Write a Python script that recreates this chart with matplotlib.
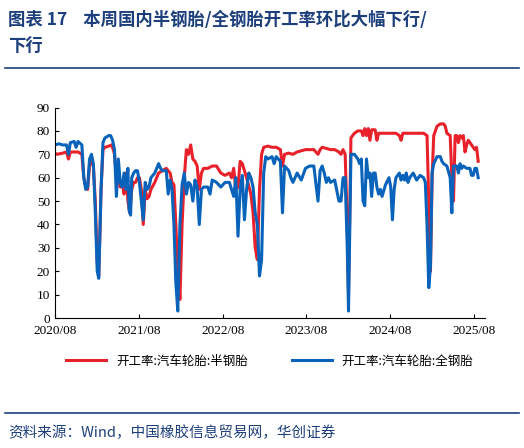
import matplotlib.pyplot as plt
import numpy as np

plt.rcParams['font.family'] = ['Noto Sans CJK SC', 'DejaVu Sans']

# x in chart units (about 2.4 weeks each), y = utilisation rate (%)
half_x = [0, 0.5, 2, 3, 3.5, 4, 6, 7, 7.5, 8, 8.5, 9, 9.5, 10, 10.5, 11, 11.4, 12, 12.5, 13, 14, 14.7,
          15.2, 15.5, 16, 16.5, 17, 17.5, 18, 18.5, 19, 19.5, 20, 20.5, 21, 21.5, 22, 22.5, 23, 23.5, 24,
          24.5, 25, 26, 27, 28, 29, 30, 30.5, 31, 31.5, 32, 32.5, 33, 33.5, 34, 34.5, 35, 35.5, 36, 36.5,
          37, 37.5, 38, 39, 40, 41, 42, 43, 44, 44.5, 45, 45.5, 46, 46.5, 47, 48, 49, 49.5, 50, 50.5, 51,
          51.5, 52, 53, 54, 55, 56, 56.5, 57, 58, 59, 60, 62, 64, 65, 65.5, 66, 67, 68, 69, 70, 70.5, 71,
          71.5, 72, 72.3, 72.7, 73, 74, 75, 76, 76.5, 77, 77.5, 78, 78.5, 79, 80, 80.5, 81, 82, 84, 86, 87,
          87.5, 88, 90, 92, 94, 95, 95.5, 96, 96.5, 97, 98, 99, 100, 100.5, 101, 102, 102.5, 103, 103.5,
          104, 104.5, 105, 105.5, 106, 106.5, 107, 107.5, 108, 108.5, 109, 109.5, 110, 110.5]
half_y = [70.5, 70, 70.5, 71, 68, 71, 71, 70, 60, 56, 55, 65, 67, 65, 50, 24, 18, 55, 72, 73, 73.5, 74,
          72, 70, 60, 60, 56, 58, 53, 62, 50, 45, 55, 58, 58, 60, 60, 55, 40, 55, 51,
          52, 55, 58, 62, 63, 64, 62, 58, 57, 40, 20, 8, 40, 60, 72, 70, 74, 68, 67, 65,
          55, 62, 64, 64, 65, 65, 62, 61, 62, 60, 64, 55, 56, 67, 66, 60, 53, 45, 30, 25, 55,
          70, 73, 73.5, 73, 73, 72, 65, 70, 70.5, 70, 71, 72, 72, 70, 72, 73, 72.5, 72, 72, 71, 70, 72,
          70, 40, 10, 50, 77, 79, 80, 80, 78, 81, 78, 81, 76, 80.5, 80.5, 76, 79, 79, 79, 79, 78,
          76, 79, 79, 79, 79, 78, 50, 20, 60, 78, 82, 83, 83, 82, 79, 78, 60, 50, 78,
          78, 75, 78, 77, 78, 71, 74, 76, 75, 74, 73, 72, 73, 67]

full_x = [0, 1, 2, 3, 3.5, 4, 5, 5.5, 6, 7, 7.5, 8, 8.5, 9, 9.5, 10, 10.5, 11, 11.4, 12, 12.5, 13, 14,
          14.5, 15, 15.5, 16, 16.5, 17, 17.5, 18, 18.5, 19, 19.3, 19.7, 20, 20.5, 21, 21.5, 22, 22.5, 23,
          23.5, 24, 24.5, 25, 26, 27, 27.5, 28, 29, 29.5, 30, 30.5, 31, 31.5, 32, 32.5, 33, 33.5, 34, 34.5,
          35, 35.5, 36, 36.5, 37, 37.5, 38, 39, 39.5, 40, 41, 42, 43, 44, 44.5, 45, 45.5, 46, 46.5, 47,
          47.5, 48, 48.5, 49, 49.5, 50, 50.5, 51, 51.5, 52, 52.5, 53, 54, 54.5, 55, 56, 56.5, 57, 58, 58.5,
          59, 60, 61, 62, 63, 64, 65, 65.5, 66, 66.5, 67, 67.5, 68, 69, 70, 70.5, 71, 71.5, 72, 72.3, 72.7,
          73, 74, 75, 75.5, 76, 76.5, 77, 77.5, 78, 78.5, 79, 79.5, 80, 80.5, 81, 81.5, 82, 83, 84, 84.5,
          85, 85.5, 86, 87, 87.5, 88, 88.5, 89, 89.5, 90, 91, 92, 93, 94, 94.5, 95, 95.5, 96, 96.5, 97, 98,
          99, 99.5, 100, 101, 102, 102.5, 103, 104, 104.5, 105, 105.5, 106, 107, 108, 108.5, 109, 109.5,
          110, 110.5]
full_y = [74, 74.5, 74, 74, 70, 75, 75.5, 73, 75.5, 74, 60, 55, 56, 68, 70, 66, 45, 20, 17, 55, 75, 77, 78,
          78, 76, 72, 52, 68, 58, 56, 62, 55, 64, 46, 44, 60, 62, 63, 63, 58, 50, 42,
          58, 55, 56, 60, 62, 66, 64, 63, 63, 53, 59, 55, 40, 15, 3, 40, 57, 62, 53, 58,
          57, 50, 59, 56, 40, 55, 56, 56, 53, 59, 58, 56, 58, 58, 55, 52, 60, 35, 55, 61,
          42, 55, 62, 60, 56, 45, 40, 18, 25, 62, 69, 68, 69, 66, 69, 67, 45, 65, 63, 60,
          58, 62, 59, 64, 65, 65, 50, 63, 65, 62, 58, 60, 58, 59, 50, 50, 60, 60, 30, 3, 40,
          70, 70, 68, 66, 68, 50, 48, 68, 60, 62, 52, 62, 62, 56, 53, 55, 52, 57, 60, 56,
          42, 55, 60, 62, 59, 61, 59, 62, 58, 60, 62, 59, 61, 60, 58, 40, 13, 22, 62, 66, 69,
          69, 67, 66, 65, 60, 45, 65, 65, 62, 66, 64, 65, 64, 64, 61, 61, 64,
          64, 60]

# correction of the x readings against the dips seen on the picture
read_pts = [0, 32, 51, 72.3, 95.7, 110.5]
true_pts = [0, 32, 53.3, 76.5, 97.6, 110.3]
half_x = np.interp(half_x, read_pts, true_pts)
full_x = np.interp(full_x, read_pts, true_pts)

tick_pos = [0, 21.9, 43.7, 65.5, 87.3, 109.2]
tick_lab = ["2020/08", "2021/08", "2022/08", "2023/08", "2024/08", "2025/08"]

navy = "#1d3f7c"

fig = plt.figure(figsize=(5.24, 4.48), dpi=100)
ax = fig.add_axes([0.105, 0.29, 0.82, 0.47])

ax.plot(half_x, half_y, color="#e8212b", lw=2.2, label="开工率:汽车轮胎:半钢胎")
ax.plot(full_x, full_y, color="#0a63bb", lw=2.2, label="开工率:汽车轮胎:全钢胎")

ax.set_xlim(0, 112)
ax.set_ylim(0, 90)
ax.set_yticks(range(0, 91, 10))
ax.set_xticks(tick_pos)
ax.set_xticklabels(tick_lab)
for s in ["top", "right"]:
    ax.spines[s].set_visible(False)
ax.tick_params(labelsize=9.5, direction="in", length=3)
ax.tick_params(axis="x", pad=5)
for lab in ax.get_xticklabels() + ax.get_yticklabels():
    lab.set_family("Liberation Serif")

ax.legend(loc="upper center", bbox_to_anchor=(0.5, -0.12), ncol=2, frameon=False,
          fontsize=9, handlelength=3.2, columnspacing=3.5)

fig.text(0.015, 0.955, "图表 17    本周国内半钢胎/全钢胎开工率环比大幅下行/", fontsize=12.5,
         fontweight="bold", color=navy, va="center")
fig.text(0.015, 0.895, "下行", fontsize=12.5, fontweight="bold", color=navy, va="center")
fig.add_artist(plt.Line2D([0.01, 0.99], [0.848, 0.848], color=navy, lw=1.2))
fig.add_artist(plt.Line2D([0.01, 0.99], [0.078, 0.078], color=navy, lw=1.2))
fig.text(0.015, 0.035, "资料来源：Wind，中国橡胶信息贸易网，华创证券", fontsize=10.5,
         style="italic", va="center", color=navy)

fig.savefig("out.png", dpi=100)
